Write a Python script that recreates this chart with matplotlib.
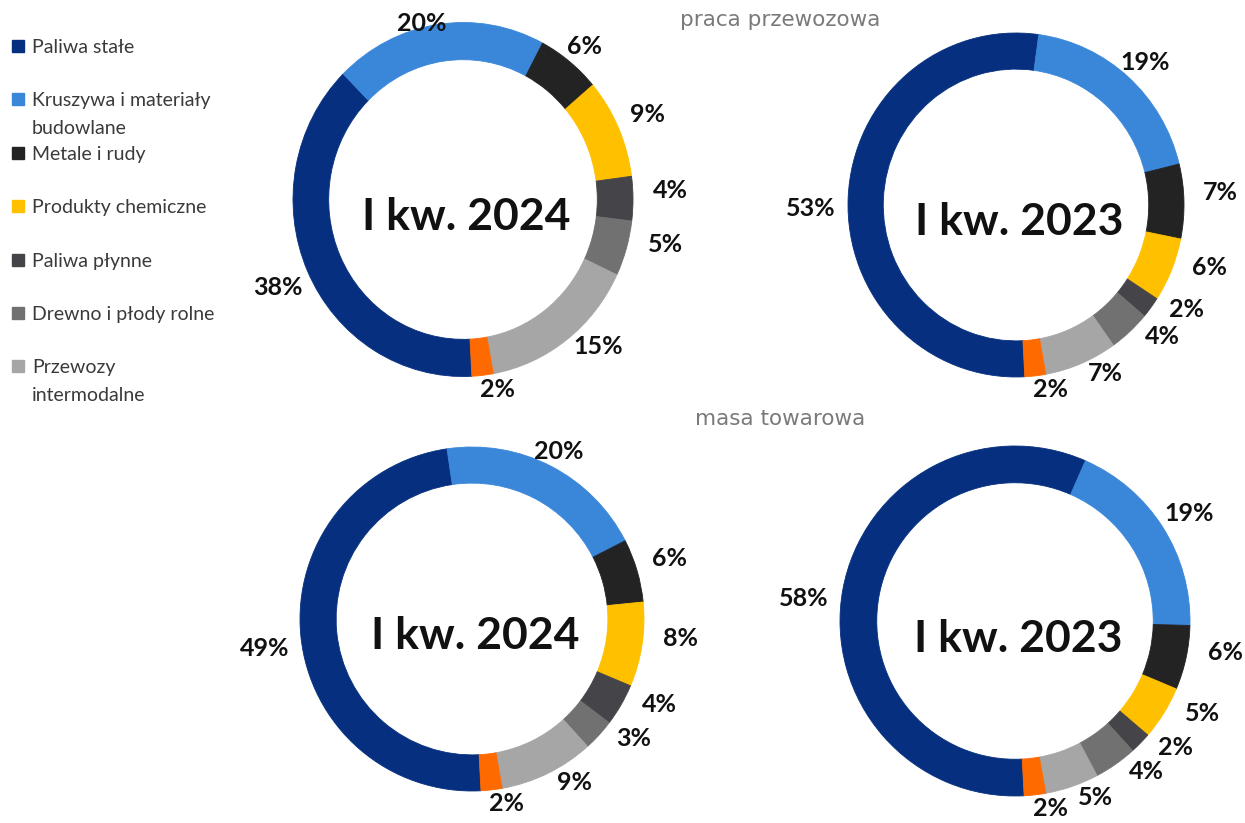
import numpy as np
import matplotlib.pyplot as plt
from matplotlib.patches import Rectangle

# kategorie ladunkow (ostatnia - pomaranczowa - nie ma jej w legendzie)
kategorie = ["Paliwa stałe", "Kruszywa i materiały\nbudowlane", "Metale i rudy",
             "Produkty chemiczne", "Paliwa płynne", "Drewno i płody rolne",
             "Przewozy\nintermodalne", "Pozostałe"]
kolory = ["#06307F", "#3A87DA", "#232323", "#FFC000", "#444449", "#717171", "#A6A6A6", "#FF6A00"]

# udzialy w %
praca_2024 = [38, 20, 6, 9, 4, 5, 15, 2]
praca_2023 = [53, 19, 7, 6, 2, 4, 7, 2]
masa_2024 = [49, 20, 6, 8, 4, 3, 9, 2]
masa_2023 = [58, 19, 6, 5, 2, 4, 5, 2]

okresy = ["I kw. 2024", "I kw. 2023", "I kw. 2024", "I kw. 2023"]
tytuly = ["praca przewozowa", "masa towarowa"]

W, H = 1245, 823
fig = plt.figure(figsize=(W / 100, H / 100), dpi=100)

def fx(px):
    return px / W

def fy(py):
    return 1 - py / H

# srodek i promienie (px) kazdego pierscienia
uklad = [(463, 199.5, 170, 177), (1016, 205, 168, 172),
         (472, 619, 172, 172), (1015, 621, 175, 175)]
dane = [praca_2024, praca_2023, masa_2024, masa_2023]

for i in range(4):
    cx, cy, rx, ry = uklad[i]
    ax = fig.add_axes([fx(cx - rx), fy(cy + ry), 2 * rx / W, 2 * ry / H])
    wedges, _ = ax.pie(dane[i], colors=kolory, startangle=-87, counterclock=False,
                       wedgeprops=dict(width=0.21))
    for w in wedges:
        w.set_edgecolor(w.get_facecolor())
        w.set_linewidth(0.6)
    ax.set_xlim(-1, 1)
    ax.set_ylim(-1, 1)
    ax.set_aspect("auto")
    ax.axis("off")

    # etykiety procentowe na zewnatrz pierscienia (lekko przesuniete w lewo)
    ymax = (cy - 22) / ry
    for w, v in zip(wedges, dane[i]):
        kat = np.deg2rad((w.theta1 + w.theta2) / 2 + 3)
        x = 1.22 * np.cos(kat)
        y = min(1.08 * np.sin(kat), ymax)
        ax.annotate(f"{v}%", (x, y), xytext=(0, -6.5), textcoords="offset points",
                    ha="center", va="baseline", fontsize=18, fontweight="bold",
                    family="Lato", color="#111111", annotation_clip=False)

    ax.text(0.02, -0.175, okresy[i], ha="center", va="baseline", fontsize=32,
            fontweight="bold", family="Lato", color="#111111")

fig.text(fx(780.5), fy(20), tytuly[0], ha="center", va="center", fontsize=15.5,
         color="#7A7A7A")
fig.text(fx(780.5), fy(419), tytuly[1], ha="center", va="center", fontsize=15.5,
         color="#7A7A7A")

# legenda
for k in range(7):
    yk = 46 + k * 53.4
    fig.add_artist(Rectangle((fx(12), fy(yk + 6)), 12 / W, 12 / H,
                             transform=fig.transFigure, color=kolory[k]))
    for j, linia in enumerate(kategorie[k].split("\n")):
        fig.text(fx(32), fy(yk + 7 + j * 28), linia, ha="left", va="baseline",
                 fontsize=14, family="Lato", color="#3A3A3A")

plt.savefig("out.png", dpi=100)
